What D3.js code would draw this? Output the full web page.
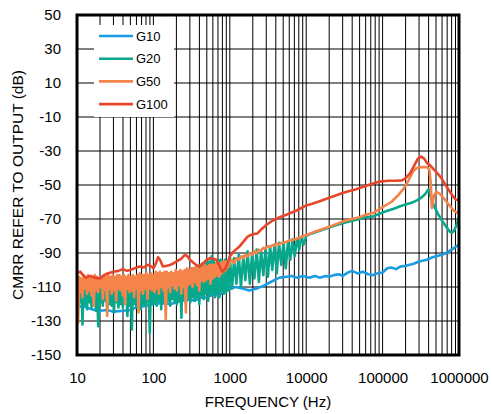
<!DOCTYPE html>
<html><head><meta charset="utf-8">
<script src="https://cdn.jsdelivr.net/npm/d3@7"></script>
<style>body{margin:0;background:#fff}svg{display:block}text{font-family:"Liberation Sans",Arial,sans-serif;fill:#000}</style>
</head><body><svg id="c" width="492" height="414"></svg>
<script>
const xTicks=[10,100,1000,10000,100000,1000000];
const yTicks=[50,30,10,-10,-30,-50,-70,-90,-110,-130,-150];
const seriesNames=["G10","G20","G50","G100"];
const seriesColors=["#1a9de2","#08a88c","#f5844a","#e8462b"];
const xTitle="FREQUENCY (Hz)";
const yTitle="CMRR REFER TO OUTPUT (dB)";

const noiseFreqs=[10,10.35,10.7,11.05,11.4,11.8,12.2,12.65,13.1,13.55,14,14.5,15,15.5,16,16.55,17.1,17.7,18.3,18.95,19.6,20.3,21,21.75,22.5,23.25,24,24.85,25.7,26.6,27.5,28.45,29.4,30.45,31.5,32.6,33.7,34.85,36,37.25,38.5,39.85,41.2,42.65,44.1,45.65,47.2,48.85,50.5,52.25,54,55.9,57.8,59.8,61.8,63.95,66.1,68.4,70.7,73.2,75.7,78.35,81,83.8,86.6,89.65,92.7,96.35,
100,103.5,107,110.5,114,118,122,126.5,131,135.5,140,145,150,155,160,165.5,171,177,183,189.5,196,203,210,217.5,225,232.5,240,248.5,257,266,275,284.5,294,304.5,315,326,337,348.5,360,372.5,385,398.5,412,426.5,441,456.5,472,488.5,505,522.5,540,559,578,598,618,639.5,661,684,707,732,757,783.5,810,838,866,896.5,927,963.5,
1000,1070,1140,1220,1310,1400,1500,1600,1710,1830,1960,2100,2250,2400,2570,2750,2940,3150,3370,3600,3850,4120,4410,4720,5050,5400,5780,6180,6610,7070,7570,8100,8660,9270];

const g10=[[10,-122],[12,-121],[14,-122.5],[17,-123.5],[20,-124],[25,-123.5],[30,-124.5],[40,-124],[50,-123.5],[60,-122],[80,-121],[100,-120],[130,-119.5],[170,-120],[200,-119],[250,-118],[300,-117.5],[350,-118],[400,-116.5],[500,-116],[600,-114.5],[700,-115],[800,-113.5],[1000,-111],[1200,-110],[1500,-111],[1800,-112],[2200,-111],[2700,-109.5],[3300,-107.5],[4000,-105.5],[4500,-104.5],[5500,-104],[6500,-103.5],[7500,-104.5],[9000,-103.5],[11000,-104.5],[13000,-103.5],[15000,-104.5],[18000,-103.5],[20000,-104],[23000,-103],[27000,-102.5],[30000,-103.5],[35000,-101.5],[40000,-100.5],[47000,-102],[55000,-101],[65000,-102.5],[75000,-103],[85000,-102],[100000,-101.5],[115000,-99],[130000,-98.5],[150000,-99.5],[170000,-98],[200000,-97.5],[250000,-96.5],[300000,-95],[380000,-94],[450000,-92.5],[550000,-91.5],[650000,-90.5],[800000,-88],[1000000,-85]];

const g20Noise=[-110,-121,-107,-119,-106,-132,-108,-120,-107,-123,
-106,-119,-108,-122,-107,-120,-106,-124,-108,-133,
-107,-119,-106,-121,-108,-118,-107,-123,-106,-120,
-108,-121,-107,-125,-106,-119,-108,-122,-107,-120,
-106,-122,-107,-119,-108,-127,-106,-121,-107,-135,
-106,-120,-108,-122,-107,-119,-106,-123,-108,-120,
-107,-121,-106,-119,-108,-137,-106,-120,
-105,-119,-104,-121,-105,-118,-104,-123,-105,-119,
-103,-120,-104,-118,-103,-121,-104,-117,-103,-119,
-103,-120,-102,-118,-102,-128,-101,-117,-101,-119,
-100,-117,-100,-119,-99,-116,-99,-118,-98,-116,
-98,-120,-97,-115,-96,-117,-96,-114,-95,-118,
-95,-115,-92,-113,-94,-116,-96,-114,-94,-116,
-94,-112,-95,-114,-94,-113,-95,-112,
-92,-111,-93,-108,-91,-110,-92,-106,-89,-108,-90,-105,-88,-107,-89,-103,-87,-104,-86,-100,-85,-102,-84,-97,-84,-99,-83,-94,-82,-92,-81.5,-88,-80.5,-85];
const g20Tail=[[10000,-80],[11000,-79],[13000,-78],[16000,-76.5],[20000,-75],[25000,-73.5],[30000,-72.5],[40000,-71],[50000,-70],[60000,-69],[75000,-68.5],[90000,-67],[110000,-65.5],[140000,-64],[170000,-62.5],[200000,-61.5],[240000,-60.5],[280000,-59],[320000,-57.5],[360000,-55.5],[390000,-53],[405000,-52.5],[420000,-56],[440000,-59],[480000,-63],[530000,-67],[600000,-71],[680000,-74.5],[760000,-77.5],[810000,-78],[860000,-77],[920000,-74],[1000000,-68.5]];

const g50Noise=[-106,-131,-104,-113,-105,-116,-103,-111,-104,-114,
-103,-112,-105,-115,-104,-121,-103,-112,-104,-113,
-105,-110,-104,-117,-103,-112,-104,-127,-103,-111,
-104,-114,-103,-112,-104,-118,-103,-111,-103,-112,
-104,-115,-103,-120,-104,-111,-103,-113,-104,-112,
-103,-116,-104,-111,-103,-125,-102,-112,-103,-114,
-103,-111,-102,-117,-103,-111,-102,-112,
-103,-113,-101,-111,-102,-114,-101,-110,-102,-112,
-101,-129,-101,-110,-102,-113,-101,-109,-102,-111,
-100,-112,-101,-109,-100,-114,-101,-110,-100,-125,
-99,-109,-100,-108,-99,-110,-99,-107,-98,-109,
-98,-112,-99,-106,-98,-107,-97,-106,-98,-105,
-97,-108,-97,-105,-97,-104,-96,-103,-96,-104,
-96,-102,-95,-101,-95,-100,-95,-98,
-95,-94,-96,-93,-94,-92,-93,-91,-92,-90,-91,-89,-90,-88,-88.5,-87,-87.5,-86,-86.5,-85.5,-85.5,-84.5,-85,-84,-84,-83.5,-83,-82.5,-82.5,-82,-81.5,-81,-80.5,-80];
const g50Tail=[[10000,-79.5],[13000,-77.5],[16000,-76],[20000,-74.5],[25000,-73],[30000,-71.5],[40000,-70],[50000,-69],[60000,-67.5],[75000,-66.5],[100000,-63],[130000,-60],[160000,-56],[190000,-52],[220000,-47],[250000,-42],[280000,-40],[320000,-39.5],[380000,-39.5],[410000,-41],[425000,-48],[442000,-63.5],[470000,-56],[510000,-54],[570000,-55.5],[650000,-58.5],[750000,-62],[850000,-65],[950000,-66.5],[1000000,-65]];

const g100=[[10,-102],[11,-101],[12,-103],[13,-104.5],[15,-103.5],[17,-104.5],[20,-105],[22,-103.5],[25,-102],[30,-101],[35,-100.5],[40,-99.5],[45,-100.5],[50,-100],[57,-99],[66,-98],[75,-98.5],[85,-97],[95,-98],[100,-99],[108,-96],[115,-92.5],[122,-94],[133,-98],[150,-97.5],[165,-97],[185,-96],[200,-95],[230,-93.5],[260,-91],[280,-92],[300,-94],[350,-96.5],[400,-98],[450,-96],[500,-94],[550,-93],[620,-93.5],[670,-94],[720,-97],[800,-101],[880,-99],[950,-95],[1000,-92],[1100,-89.5],[1200,-88],[1350,-86],[1500,-83.5],[1700,-80.5],[1850,-79.5],[2000,-79],[2300,-78.5],[2600,-76],[3000,-73.5],[3600,-71],[4500,-69],[5500,-67.5],[7500,-65],[10000,-62],[12000,-61],[15000,-59.5],[20000,-57.5],[27000,-55.5],[34000,-54],[45000,-52.5],[56000,-51],[70000,-49.5],[91000,-48],[120000,-47.5],[150000,-47.5],[180000,-47.3],[200000,-46],[230000,-43],[260000,-38.5],[290000,-34.5],[320000,-33.3],[350000,-34.5],[380000,-37],[420000,-38.5],[460000,-40.5],[520000,-43],[600000,-46.5],[700000,-51.5],[800000,-55.5],[900000,-58.5],[1000000,-59]];

const W=492,H=414,L=77,R=459,T=15,B=355;
const svg=d3.select("#c");
const x=d3.scaleLog().domain([10,1000000]).range([L,R]);
const y=d3.scaleLinear().domain([-150,50]).range([B,T]);

// grid
const minor=[];
for(let d=10; d<1000000; d*=10){ for(let k=1;k<10;k++) minor.push(d*k); }
minor.push(1000000);
const g=svg.append("g");
g.selectAll("line.v").data(minor).join("line")
 .attr("x1",d=>x(d)).attr("x2",d=>x(d)).attr("y1",T).attr("y2",B)
 .attr("stroke","#000").attr("stroke-width",1);
g.selectAll("line.h").data(yTicks).join("line")
 .attr("x1",L).attr("x2",R).attr("y1",d=>y(d)).attr("y2",d=>y(d))
 .attr("stroke","#000").attr("stroke-width",1);

// series
const series=[
 g10,
 noiseFreqs.map((f,i)=>[f,g20Noise[i]]).concat(g20Tail),
 noiseFreqs.map((f,i)=>[f,g50Noise[i]]).concat(g50Tail),
 g100
];
svg.append("clipPath").attr("id","clip").append("rect").attr("x",L).attr("y",T).attr("width",R-L).attr("height",B-T);
const line=d3.line().x(d=>x(d[0])).y(d=>y(d[1]));
svg.append("g").attr("clip-path","url(#clip)").selectAll("path").data(series).join("path")
 .attr("d",line).attr("fill","none").attr("stroke",(d,i)=>seriesColors[i])
 .attr("stroke-width",2.6).attr("stroke-linejoin","round");

// legend
const lg=svg.append("g");
lg.append("rect").attr("x",94).attr("y",25).attr("width",80).attr("height",92).attr("fill","#fff");
seriesNames.forEach((n,i)=>{
  const ly=36+i*22.7;
  lg.append("line").attr("x1",99).attr("x2",133).attr("y1",ly).attr("y2",ly).attr("stroke",seriesColors[i]).attr("stroke-width",2.6);
  lg.append("text").attr("x",136).attr("y",ly+4.5).attr("font-size",13).text(n);
});

// frame
svg.append("rect").attr("x",L).attr("y",T).attr("width",R-L).attr("height",B-T).attr("fill","none").attr("stroke","#000").attr("stroke-width",3);

// axes labels
const xa=svg.append("g").attr("transform",`translate(0,${B})`).call(d3.axisBottom(x).tickValues(xTicks).tickFormat(d=>String(d)).tickSize(0).tickPadding(17));
xa.select(".domain").remove();
xa.selectAll("text").attr("font-size",15).style("font-family",'"Liberation Sans",Arial,sans-serif');
const ya=svg.append("g").attr("transform",`translate(${L},0)`).call(d3.axisLeft(y).tickValues(yTicks).tickFormat(d=>String(d)).tickSize(0).tickPadding(16));
ya.select(".domain").remove();
ya.selectAll("text").attr("font-size",15).style("font-family",'"Liberation Sans",Arial,sans-serif');

svg.append("text").attr("x",(L+R)/2).attr("y",407).attr("text-anchor","middle").attr("font-size",15).text(xTitle);
svg.append("text").attr("transform",`translate(23,${(T+B)/2}) rotate(-90)`).attr("text-anchor","middle").attr("font-size",15.5).text(yTitle);
</script></body></html>
